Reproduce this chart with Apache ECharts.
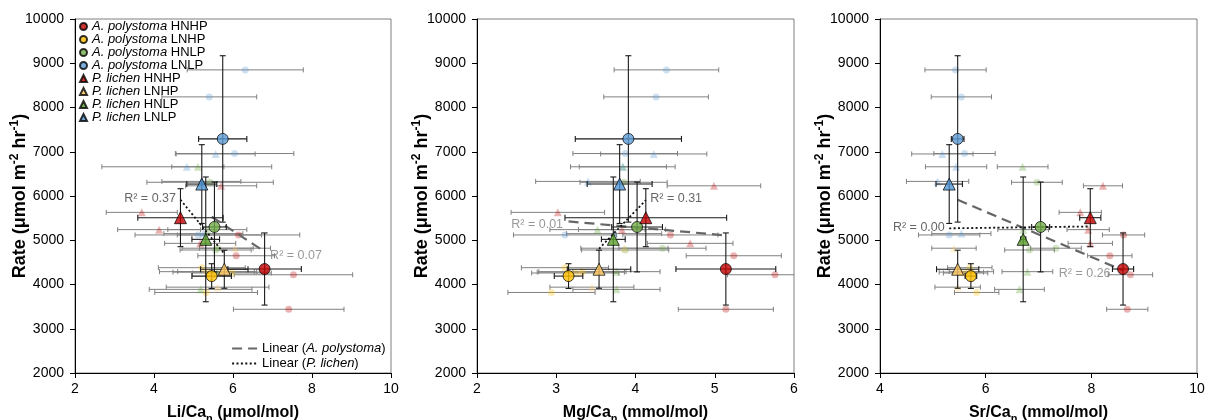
<!DOCTYPE html>
<html><head><meta charset="utf-8">
<script src="https://cdn.jsdelivr.net/npm/echarts@6/dist/echarts.min.js"></script>
<style>html,body{margin:0;padding:0;background:#fff}#c{width:1207px;height:420px}</style>
</head><body><div id="c"></div>
<script>
// ---------- DATA ----------
const treatments = ['HNHP', 'LNHP', 'HNLP', 'LNLP'];
const speciesNames = ['A. polystoma', 'P. lichen'];

// group means: Rate (µmol m-2 hr-1)
const apRate = [4350, 4190, 5300, 7290];
const apRateErr = [815, 280, 1015, 1880];
const plRate = [5510, 4345, 5020, 6270];
const plRateErr = [655, 430, 1410, 890];

// group means: Li/Ca (µmol/mol)
const apLi = [6.80, 5.46, 5.53, 5.74];
const apLiErr = [0.93, 0.50, 0.30, 0.61];
const plLi = [4.67, 5.78, 5.31, 5.21];
const plLiErr = [1.08, 0.60, 0.35, 0.38];

// group means: Mg/Ca (mmol/mol)
const apMg = [5.14, 3.155, 4.02, 3.91];
const apMgErr = [0.63, 0.18, 0.32, 0.67];
const plMg = [4.13, 3.54, 3.72, 3.80];
const plMgErr = [1.02, 0.40, 0.15, 0.41];

// group means: Sr/Ca (mmol/mol)
const apSr = [8.60, 5.72, 7.04, 5.47];
const apSrErr = [0.20, 0.11, 0.17, 0.12];
const plSr = [7.98, 5.47, 6.71, 5.31];
const plSrErr = [0.20, 0.40, 0.05, 0.25];

// replicates (faint points), per treatment
const apRepRate = [[5120, 4650, 4220, 3440], [4380, 4290, 4260, 3820], [6310, 4780, 4820], [8850, 8240, 6960, 5120]];
const apRepLi = [[6.14, 6.08, 7.53, 7.41], [5.21, 5.34, 5.97, 5.32], [5.42, 5.56, 5.61], [6.31, 5.40, 6.04, 5.12]];
const apRepLiErr = [[1.55, 0.97, 1.50, 1.40], [1.10, 1.20, 1.00, 1.30], [1.60, 0.90, 0.90], [1.47, 1.20, 1.50, 1.60]];
const apRepMg = [[4.44, 5.24, 5.76, 5.14], [3.11, 3.33, 3.24, 2.94], [3.85, 3.87, 4.34], [4.39, 4.26, 3.87, 3.11]];
const apRepMgErr = [[0.60, 0.60, 0.60, 0.60], [0.55, 0.55, 0.55, 0.55], [0.55, 0.55, 0.55], [0.66, 0.66, 0.66, 0.65]];
const apRepSr = [[8.61, 8.35, 8.74, 8.68], [5.70, 5.73, 5.62, 5.83], [6.97, 6.83, 7.33], [5.43, 5.54, 5.60, 5.31]];
const apRepSrErr = [[0.40, 0.42, 0.42, 0.39], [0.42, 0.42, 0.42, 0.42], [0.48, 0.47, 0.48], [0.58, 0.57, 0.58, 0.58]];

const plRepRate = [[6230, 5630, 5240, 4930], [4820, 4280, 3940], [6660, 5240, 4290, 3890], [6950, 6660, 6330, 5150]];
const plRepLi = [[5.70, 3.69, 4.13, 5.17], [6.05, 5.68, 5.61], [5.11, 5.35, 5.60, 5.18], [5.56, 4.83, 5.20, 5.25]];
const plRepLiErr = [[0.90, 0.90, 1.05, 0.90], [0.90, 1.20, 1.30], [0.66, 1.00, 1.00, 1.30], [1.00, 2.15, 1.00, 1.00]];
const plRepMg = [[4.99, 3.02, 3.83, 4.69], [3.86, 3.31, 3.45], [3.84, 3.52, 3.76, 3.76], [4.23, 3.84, 3.40, 3.73]];
const plRepMgErr = [[0.59, 0.59, 0.55, 0.54], [0.55, 0.55, 0.53], [0.55, 0.60, 0.55, 0.55], [0.67, 0.66, 0.66, 0.60]];
const plRepSr = [[8.22, 7.79, 7.94, 7.98], [5.40, 5.54, 5.47], [6.70, 6.71, 6.79, 6.64], [5.18, 5.44, 5.09, 5.54]];
const plRepSrErr = [[0.37, 0.40, 0.40, 0.42], [0.42, 0.42, 0.43], [0.48, 0.48, 0.48, 0.47], [0.58, 0.58, 0.59, 0.56]];

// R² labels as printed: [A. polystoma, P. lichen] per panel
const r2Li = ['0.07', '0.37'];
const r2Mg = ['0.01', '0.31'];
const r2Sr = ['0.26', '0.00'];

// axes
const xMins = [2, 2, 4];
const xMaxs = [10, 6, 10];
const xSteps = [2, 1, 2];
const xNames = ['Li/Ca{sub|n} (μmol/mol)', 'Mg/Ca{sub|n} (mmol/mol)', 'Sr/Ca{sub|n} (mmol/mol)'];
const yMin = 2000, yMax = 10000, yStep = 1000;
const yName = 'Rate (μmol m{sup|-2} hr{sup|-1})';
const trendNames = ['Linear (A. polystoma)', 'Linear (P. lichen)'];

// ---------- STYLE ----------
const FONT = '"Liberation Sans", Arial, sans-serif';
const colors = [['#C00000', '#FFC000', '#70AD47', '#5B9BD5'], ['#C00000', '#FFC75F', '#5AA02C', '#4F95D6']];
const symbols = ['circle', 'triangle'];
const mainSize = [11, 12];
const faintSize = [7, 8];
const trendStyles = [
  {color: '#666666', width: 2.2, type: [10, 6]},
  {color: '#111111', width: 1.8, type: [2, 2.4]}
];
const grids = [
  {left: 75, top: 19, width: 316, height: 354},
  {left: 477, top: 19, width: 317, height: 354},
  {left: 880, top: 19, width: 317, height: 354}
];
const r2Place = [
  [{end: 1, position: 'right', distance: 5, offset: [0, 4], color: '#7f7f7f'}, {end: 0, position: 'left', distance: 4, offset: [0, -1], color: '#404040'}],
  [{end: 0, position: 'left', distance: 5, offset: [0, 3], color: '#7f7f7f'}, {end: 1, position: 'right', distance: 4, offset: [0, -2], color: '#404040'}],
  [{end: 1, position: 'left', distance: 12, offset: [0, 3], color: '#7f7f7f'}, {end: 0, position: 'left', distance: 4, offset: [0, -1], color: '#404040'}]
];

const panels = [
  {mean: [apLi, plLi], err: [apLiErr, plLiErr], rep: [apRepLi, plRepLi], repErr: [apRepLiErr, plRepLiErr], r2: r2Li},
  {mean: [apMg, plMg], err: [apMgErr, plMgErr], rep: [apRepMg, plRepMg], repErr: [apRepMgErr, plRepMgErr], r2: r2Mg},
  {mean: [apSr, plSr], err: [apSrErr, plSrErr], rep: [apRepSr, plRepSr], repErr: [apRepSrErr, plRepSrErr], r2: r2Sr}
];
const rates = [apRate, plRate], rateErrs = [apRateErr, plRateErr], repRates = [apRepRate, plRepRate];

function errBar(cap, color, width) {
  return function (params, api) {
    const x = api.value(0), y = api.value(1), xe = api.value(2), ye = api.value(3);
    const st = {stroke: color, lineWidth: width, fill: null};
    const ch = [];
    if (xe > 0) {
      const a = api.coord([x - xe, y]), b = api.coord([x + xe, y]);
      ch.push({type: 'line', shape: {x1: a[0], y1: a[1], x2: b[0], y2: b[1]}, style: st});
      ch.push({type: 'line', shape: {x1: a[0], y1: a[1] - cap, x2: a[0], y2: a[1] + cap}, style: st});
      ch.push({type: 'line', shape: {x1: b[0], y1: b[1] - cap, x2: b[0], y2: b[1] + cap}, style: st});
    }
    if (ye > 0) {
      const a = api.coord([x, y - ye]), b = api.coord([x, y + ye]);
      ch.push({type: 'line', shape: {x1: a[0], y1: a[1], x2: b[0], y2: b[1]}, style: st});
      ch.push({type: 'line', shape: {x1: a[0] - cap, y1: a[1], x2: a[0] + cap, y2: a[1]}, style: st});
      ch.push({type: 'line', shape: {x1: b[0] - cap, y1: b[1], x2: b[0] + cap, y2: b[1]}, style: st});
    }
    return {type: 'group', children: ch};
  };
}

function linFit(xs, ys) {
  const n = xs.length;
  const mx = xs.reduce((a, b) => a + b, 0) / n, my = ys.reduce((a, b) => a + b, 0) / n;
  let sxy = 0, sxx = 0;
  for (let i = 0; i < n; i++) { sxy += (xs[i] - mx) * (ys[i] - my); sxx += (xs[i] - mx) * (xs[i] - mx); }
  const b = sxy / sxx, a = my - b * mx;
  const x0 = Math.min(...xs), x1 = Math.max(...xs);
  return [[x0, a + b * x0], [x1, a + b * x1]];
}

const series = [];
panels.forEach((P, p) => {
  const repErrData = [];
  for (let s = 0; s < 2; s++) for (let g = 0; g < 4; g++)
    P.rep[s][g].forEach((v, k) => repErrData.push([v, repRates[s][g][k], P.repErr[s][g][k], 0]));
  series.push({type: 'custom', name: 'repErr' + p, xAxisIndex: p, yAxisIndex: p, clip: true, silent: true, z: 1,
    encode: {x: 0, y: 1}, renderItem: errBar(2.5, '#808080', 1), data: repErrData});
  for (let s = 0; s < 2; s++) for (let g = 0; g < 4; g++) {
    series.push({type: 'scatter', name: 'rep ' + speciesNames[s] + ' ' + treatments[g], xAxisIndex: p, yAxisIndex: p, z: 2,
      symbol: symbols[s], symbolSize: faintSize[s], silent: true,
      itemStyle: {color: colors[s][g], opacity: 0.3},
      data: P.rep[s][g].map((v, k) => [v, repRates[s][g][k]])});
  }
  for (let s = 0; s < 2; s++) {
    const line = linFit(P.mean[s], rates[s]);
    series.push({type: 'line', name: trendNames[s], xAxisIndex: p, yAxisIndex: p, z: 3, symbol: 'none', showSymbol: false, silent: true,
      lineStyle: trendStyles[s], itemStyle: {color: trendStyles[s].color}, data: line});
    const pl = r2Place[p][s];
    series.push({type: 'scatter', name: 'r2 ' + p + s, xAxisIndex: p, yAxisIndex: p, z: 6, silent: true,
      symbolSize: 1, itemStyle: {color: 'rgba(0,0,0,0)'},
      label: {show: true, formatter: 'R² = ' + P.r2[s], position: pl.position, distance: pl.distance, offset: pl.offset,
        color: pl.color, fontSize: 12.5, fontFamily: FONT},
      data: [line[pl.end]]});
  }
  const mainErr = [];
  for (let s = 0; s < 2; s++) for (let g = 0; g < 4; g++)
    mainErr.push([P.mean[s][g], rates[s][g], P.err[s][g], rateErrs[s][g]]);
  series.push({type: 'custom', name: 'mainErr' + p, xAxisIndex: p, yAxisIndex: p, clip: true, silent: true, z: 4,
    encode: {x: 0, y: 1}, renderItem: errBar(3, '#1a1a1a', 1.1), data: mainErr});
  for (let s = 0; s < 2; s++) for (let g = 0; g < 4; g++) {
    series.push({type: 'scatter', name: speciesNames[s] + ' ' + treatments[g], xAxisIndex: p, yAxisIndex: p, z: 5,
      symbol: symbols[s], symbolSize: mainSize[s],
      itemStyle: {color: colors[s][g], borderColor: '#000', borderWidth: 0.9},
      data: [[P.mean[s][g], rates[s][g]]]});
  }
});

const legendNames = [];
for (let s = 0; s < 2; s++) for (let g = 0; g < 4; g++) legendNames.push(speciesNames[s] + ' ' + treatments[g]);

const option = {
  animation: false,
  backgroundColor: '#fff',
  grid: grids.map(g => Object.assign({show: true, borderColor: '#7f7f7f', borderWidth: 1, containLabel: false, outerBoundsMode: 'none'}, g)),
  xAxis: grids.map((g, i) => ({
    type: 'value', gridIndex: i, min: xMins[i], max: xMaxs[i], interval: xSteps[i],
    name: xNames[i], nameLocation: 'middle', nameGap: 29, nameMoveOverlap: false,
    nameTextStyle: {fontFamily: FONT, fontSize: 16, fontWeight: 'bold', color: '#000', lineHeight: 22,
      rich: {sub: {fontFamily: FONT, fontSize: 11, fontWeight: 'bold', color: '#000', verticalAlign: 'bottom', lineHeight: 14}}},
    axisLine: {show: true, onZero: false, lineStyle: {color: '#000', width: 1}},
    axisTick: {show: true, length: 5, lineStyle: {color: '#000'}},
    axisLabel: {fontFamily: FONT, fontSize: 14, color: '#000', margin: 9, formatter: v => String(v)},
    splitLine: {show: false}
  })),
  yAxis: grids.map((g, i) => ({
    type: 'value', gridIndex: i, min: yMin, max: yMax, interval: yStep,
    name: yName, nameLocation: 'middle', nameGap: 44, nameRotate: 90, nameMoveOverlap: false,
    nameTextStyle: {fontFamily: FONT, fontSize: 18, fontWeight: 'bold', color: '#000', lineHeight: 22,
      rich: {sup: {fontFamily: FONT, fontSize: 12, fontWeight: 'bold', color: '#000', verticalAlign: 'top', lineHeight: 14}}},
    axisLine: {show: true, onZero: false, lineStyle: {color: '#000', width: 1}},
    axisTick: {show: true, length: 5, lineStyle: {color: '#000'}},
    axisLabel: {fontFamily: FONT, fontSize: 14, color: '#000', margin: 11, formatter: v => String(v)},
    splitLine: {show: false}
  })),
  legend: [
    {data: legendNames, orient: 'vertical', left: 79, top: 20, padding: 0, itemGap: 0, itemWidth: 7, itemHeight: 7,
      selectedMode: false, align: 'left',
      formatter: n => n.replace(/^(A\. polystoma|P\. lichen) /, '{i|$1} '),
      textStyle: {fontFamily: FONT, fontSize: 13, color: '#000', lineHeight: 13,
        rich: {i: {fontFamily: FONT, fontSize: 13, fontStyle: 'italic', color: '#000', lineHeight: 13}}}},
    {data: trendNames.map((n, s) => ({name: n, lineStyle: Object.assign({}, trendStyles[s]), itemStyle: {opacity: 0}})),
      orient: 'vertical', left: 231, top: 341, padding: 0, itemGap: 0, itemWidth: 25, itemHeight: 10,
      selectedMode: false, align: 'left',
      formatter: n => n.replace(/\((.*)\)/, '({i|$1})'),
      textStyle: {fontFamily: FONT, fontSize: 13, color: '#000', lineHeight: 15,
        rich: {i: {fontFamily: FONT, fontSize: 13, fontStyle: 'italic', color: '#000', lineHeight: 15}}}}
  ],
  series: series
};

const chart = echarts.init(document.getElementById('c'));
chart.setOption(option);
</script>
</body></html>
